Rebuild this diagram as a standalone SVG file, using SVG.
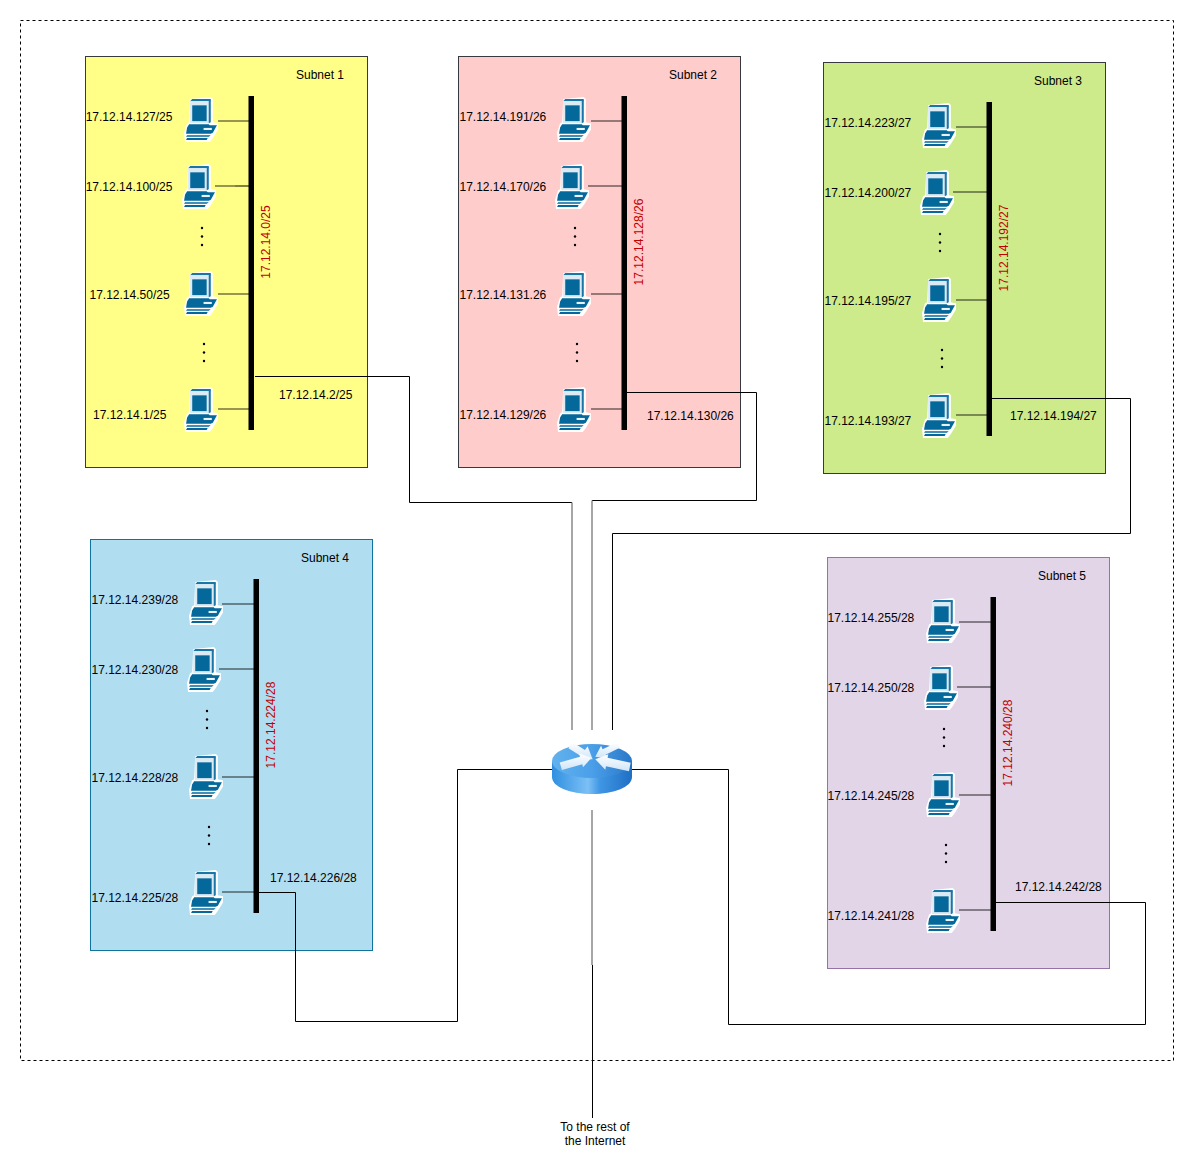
<svg xmlns="http://www.w3.org/2000/svg" xmlns:xlink="http://www.w3.org/1999/xlink" width="1194" height="1168" viewBox="0 0 1194 1168">
<style>
text{font-family:"Liberation Sans",Arial,sans-serif;font-size:12px;fill:#000}
.net{fill:#c00000}
.bus{fill:#000}
.wire{fill:none;stroke:#000;stroke-width:1}
.soft{fill:none;stroke:#808080;stroke-width:1.4}
.drop{fill:none;stroke:#000;stroke-opacity:.55;stroke-width:1.4}
.zone{stroke-width:1}
</style>
<defs>
<linearGradient id="routerTop" x1="0" y1="0" x2="1" y2="0"><stop offset="0" stop-color="#62b2ee"/><stop offset=".5" stop-color="#4a9fe8"/><stop offset="1" stop-color="#2a78c8"/></linearGradient>
<linearGradient id="routerSide" x1="0" y1="0" x2="1" y2="0"><stop offset="0" stop-color="#2f8fe0"/><stop offset=".45" stop-color="#7cc0f5"/><stop offset=".6" stop-color="#3f96e4"/><stop offset="1" stop-color="#1f6fc4"/></linearGradient>
<linearGradient id="arrowFill" x1="0" y1="0" x2="0" y2="1"><stop offset="0" stop-color="#fff"/><stop offset="1" stop-color="#cfe5f8"/></linearGradient>
<g id="pc" transform="translate(-1 0) scale(1.03 1.05)">
<path d="M6 1 L26 -1 L28 1 L28 23 L33 24 L33 30 L28 38 L25 42 L1 42 L0 33 L3 24 L5 23 Z" fill="#fff"/>
<path d="M6 3 L8 1 L26 1 L26 3 Z" fill="#1b76a8"/>
<path d="M6 3 L24 3 L24 24 L6 24 Z" fill="#dbeaf3"/>
<rect x="8" y="7" width="14" height="15" fill="#05689b"/>
<path d="M24 3 L26 2 L26 23 L24 24 Z" fill="#1b76a8"/>
<path d="M5 25 L24 25 L25 26 L32 26 L28 33 L26 34 L2 34 L3 28 Z" fill="#05689b"/>
<rect x="19" y="28.500" width="8" height="2" fill="#e8f2f7"/>
<path d="M3 35.500 L26 35.500 L24 37 L2 37 Z" fill="#05689b"/>
<path d="M3 38 L23 38 L22 40 L2 40 Z" fill="#05689b"/>
</g>
<g id="dots"><circle cx="0" cy="0" r="1.2"/><circle cx="0" cy="8.5" r="1.2"/><circle cx="0" cy="17" r="1.2"/></g>
</defs>
<rect id="site-boundary" x="20.5" y="20.5" width="1153" height="1040" fill="#fff" stroke="#000" stroke-dasharray="3 3"/>

<g id="subnet-1">
<rect class="zone" x="85.5" y="56.5" width="282" height="411" fill="#ffff88" stroke="#36393d"/>
<text x="296" y="79">Subnet 1</text>
<rect class="bus" x="248.500" y="96" width="5.5" height="334"/>
<text class="net" transform="translate(269.800,242) rotate(-90)" text-anchor="middle">17.12.14.0/25</text>
<use href="#dots" x="202" y="228"/><use href="#dots" x="204" y="344"/>
<text x="279" y="399">17.12.14.2/25</text>
<g id="host-1a"><use href="#pc" x="185" y="98"/><text x="85.700" y="121">17.12.14.127/25</text></g>
<g id="host-1b"><use href="#pc" x="183" y="165"/><text x="85.700" y="191">17.12.14.100/25</text></g>
<g id="host-1c"><use href="#pc" x="185" y="272"/><text x="89.500" y="299">17.12.14.50/25</text></g>
<g id="host-1d"><use href="#pc" x="185" y="388"/><text x="93" y="419">17.12.14.1/25</text></g>
</g>

<g id="subnet-2">
<rect class="zone" x="458.500" y="56.5" width="282" height="411" fill="#ffcccc" stroke="#36393d"/>
<text x="669" y="79">Subnet 2</text>
<rect class="bus" x="621.500" y="96" width="5.5" height="334"/>
<text class="net" transform="translate(642.800,242) rotate(-90)" text-anchor="middle">17.12.14.128/26</text>
<use href="#dots" x="575" y="228"/><use href="#dots" x="577" y="344"/>
<text x="647" y="420">17.12.14.130/26</text>
<g id="host-2a"><use href="#pc" x="558" y="98"/><text x="459.500" y="121">17.12.14.191/26</text></g>
<g id="host-2b"><use href="#pc" x="556" y="165"/><text x="459.500" y="191">17.12.14.170/26</text></g>
<g id="host-2c"><use href="#pc" x="558" y="272"/><text x="459.500" y="299">17.12.14.131.26</text></g>
<g id="host-2d"><use href="#pc" x="558" y="388"/><text x="459.500" y="419">17.12.14.129/26</text></g>
</g>

<g id="subnet-3">
<rect class="zone" x="823.500" y="62.5" width="282" height="411" fill="#cdeb8b" stroke="#36393d"/>
<text x="1034" y="85">Subnet 3</text>
<rect class="bus" x="986.500" y="102" width="5.5" height="334"/>
<text class="net" transform="translate(1007.800,248) rotate(-90)" text-anchor="middle">17.12.14.192/27</text>
<use href="#dots" x="940" y="234"/><use href="#dots" x="942" y="350"/>
<text x="1010" y="420">17.12.14.194/27</text>
<g id="host-3a"><use href="#pc" x="923" y="104"/><text x="824.500" y="127">17.12.14.223/27</text></g>
<g id="host-3b"><use href="#pc" x="921" y="171"/><text x="824.500" y="197">17.12.14.200/27</text></g>
<g id="host-3c"><use href="#pc" x="923" y="278"/><text x="824.500" y="305">17.12.14.195/27</text></g>
<g id="host-3d"><use href="#pc" x="923" y="394"/><text x="824.500" y="425">17.12.14.193/27</text></g>
</g>

<g id="subnet-4">
<rect class="zone" x="90.500" y="539.5" width="282" height="411" fill="#b1ddf0" stroke="#10739e"/>
<text x="301" y="562">Subnet 4</text>
<rect class="bus" x="253.500" y="579" width="5.5" height="334"/>
<text class="net" transform="translate(274.800,725) rotate(-90)" text-anchor="middle">17.12.14.224/28</text>
<use href="#dots" x="207" y="711"/><use href="#dots" x="209" y="827"/>
<text x="270" y="882">17.12.14.226/28</text>
<g id="host-4a"><use href="#pc" x="190" y="581"/><text x="91.500" y="604">17.12.14.239/28</text></g>
<g id="host-4b"><use href="#pc" x="188" y="648"/><text x="91.500" y="674">17.12.14.230/28</text></g>
<g id="host-4c"><use href="#pc" x="190" y="755"/><text x="91.500" y="782">17.12.14.228/28</text></g>
<g id="host-4d"><use href="#pc" x="190" y="871"/><text x="91.500" y="902">17.12.14.225/28</text></g>
</g>

<g id="subnet-5">
<rect class="zone" x="827.500" y="557.5" width="282" height="411" fill="#e1d5e7" stroke="#9673a6"/>
<text x="1038" y="580">Subnet 5</text>
<rect class="bus" x="990.500" y="597" width="5.5" height="334"/>
<text class="net" transform="translate(1011.800,743) rotate(-90)" text-anchor="middle">17.12.14.240/28</text>
<use href="#dots" x="944" y="729"/><use href="#dots" x="946" y="845"/>
<text x="1015" y="891">17.12.14.242/28</text>
<g id="host-5a"><use href="#pc" x="927" y="599"/><text x="827.500" y="622">17.12.14.255/28</text></g>
<g id="host-5b"><use href="#pc" x="925" y="666"/><text x="827.500" y="692">17.12.14.250/28</text></g>
<g id="host-5c"><use href="#pc" x="927" y="773"/><text x="827.500" y="800">17.12.14.245/28</text></g>
<g id="host-5d"><use href="#pc" x="927" y="889"/><text x="827.500" y="920">17.12.14.241/28</text></g>
</g>

<g id="connectors">
<path class="drop" d="M218 121H249M215 186H235M218 294H249M218 409H249"/>
<path class="wire" d="M235 186H249"/>
<path class="drop" d="M591 121H622M588 186H622M591 294H622M591 409H622"/>
<path class="drop" d="M956 127H987M953 192H987M956 300H987M956 415H987"/>
<path class="drop" d="M222 604H254M219 669H254M222 777H254M222 892H254"/>
<path class="drop" d="M959 622H991M957 687H991M959 795H991M959 910H991"/>
<path class="wire" d="M255 376.500H409.500V502.500H572"/><path class="soft" d="M572 502.500V730"/>
<path class="wire" d="M625 392.500H756.500V500.500H592"/><path class="soft" d="M592 500.500V730"/>
<path class="wire" d="M991 398.500H1130.500V533.500H612.500V730"/>
<path class="wire" d="M254 892.500H295.500V1021.500H457.500V769.500H552"/>
<path class="wire" d="M995 902.500H1145.500V1024.500H728.500V769.500H632"/>
<path class="soft" d="M592 810V965"/><path class="wire" d="M592.500 965V1118"/>
</g>

<g id="router">
<path d="M552 761V777C552 787 570 794 592 794C614 794 632 787 632 777V761Z" fill="url(#routerSide)"/>
<ellipse cx="592" cy="761" rx="40" ry="17" fill="url(#routerTop)"/>
<g fill="url(#arrowFill)" transform="translate(593 757) scale(1.15) translate(-593 -757)">
<path d="M571.700 749.300L575 744L586 751L588.300 747.700L592.700 759L580.300 759.700L582.700 756.300Z"/>
<path d="M616.300 749L613.700 744.300L601.300 750.300L600 747.300L595 756.700L605.300 758L604 755Z"/>
<path d="M566 768.300L564 761.700L581.700 756.700L581 754L591.700 757.700L584.300 766L583.700 763.300Z"/>
<path d="M625.700 762L605.700 757.700L606.300 754.700L595 759L603.700 768L604.300 765L624.300 769.300Z"/>
</g>
</g>

<g id="internet-label">
<text x="595" y="1131" text-anchor="middle">To the rest of</text>
<text x="595" y="1145" text-anchor="middle">the Internet</text>
</g>
</svg>
